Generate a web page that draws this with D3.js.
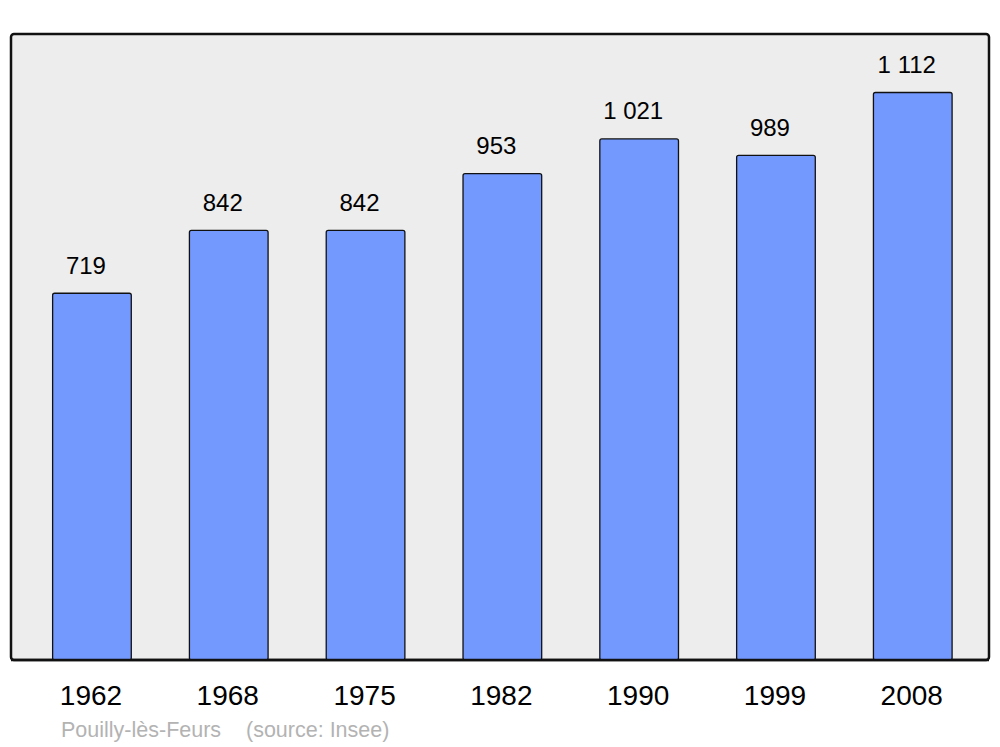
<!DOCTYPE html>
<html>
<head>
<meta charset="utf-8">
<script src="https://cdn.jsdelivr.net/npm/d3@7"></script>
<style>
  body { margin: 0; background: #fff; }
  svg { display: block; font-family: "Liberation Sans", Arial, sans-serif; }
</style>
</head>
<body>
<svg id="chart"></svg>
<script>
// population data
const years = ['1962', '1968', '1975', '1982', '1990', '1999', '2008']
const population = [719, 842, 842, 953, 1021, 989, 1112]
const valueLabels = ['719', '842', '842', '953', '1 021', '989', '1 112']
const footerName = 'Pouilly-lès-Feurs'
const footerSource = '(source: Insee)'

const width = 1000, height = 747
const panel = { left: 11, top: 34, right: 989, bottom: 660 }

const svg = d3.select('#chart').attr('width', width).attr('height', height)

// background panel
svg.append('rect')
  .attr('x', panel.left).attr('y', panel.top)
  .attr('width', panel.right - panel.left).attr('height', panel.bottom - panel.top)
  .attr('rx', 3)
  .attr('fill', '#ededed')
  .attr('stroke', '#111').attr('stroke-width', 2.5)

const x = d3.scaleBand()
  .domain(years)
  .range([panel.left, panel.right])
  .paddingInner(0.425)
  .paddingOuter(0.287)
  .align(0.53)

const y = d3.scaleLinear().domain([0, 1225.5]).range([panel.bottom, panel.top])

const data = years.map((yr, i) => ({ year: yr, value: population[i], label: valueLabels[i] }))

svg.append('g').selectAll('rect')
  .data(data)
  .join('rect')
  .attr('x', d => x(d.year))
  .attr('y', d => y(d.value) + 0.5)
  .attr('width', x.bandwidth())
  .attr('height', d => panel.bottom - y(d.value) - 0.5)
  .attr('rx', 2)
  .attr('fill', '#7399ff')
  .attr('stroke', '#111').attr('stroke-width', 1.3)

// value labels above bars
svg.append('g').selectAll('text')
  .data(data)
  .join('text')
  .attr('x', d => x(d.year) + x.bandwidth() / 2 - 6)
  .attr('y', d => y(d.value) - 19)
  .attr('text-anchor', 'middle')
  .attr('font-size', 24)
  .attr('fill', '#000')
  .text(d => d.label)

// redraw the bottom edge of the panel over the bars
svg.append('line')
  .attr('x1', panel.left).attr('x2', panel.right)
  .attr('y1', panel.bottom).attr('y2', panel.bottom)
  .attr('stroke', '#111').attr('stroke-width', 2.5)

// year axis (no ticks, no domain line)
const axis = svg.append('g')
  .attr('transform', 'translate(-1,' + panel.bottom + ')')
  .call(d3.axisBottom(x).tickSize(0).tickPadding(0))
axis.select('.domain').remove()
axis.selectAll('text')
  .attr('dy', null)
  .attr('y', 45)
  .attr('font-size', 28)
  .attr('font-family', '"Liberation Sans", Arial, sans-serif')
  .attr('fill', '#000')

// footer
svg.append('text')
  .attr('x', 61).attr('y', 737)
  .attr('font-size', 21.5).attr('fill', '#b3b3b3')
  .text(footerName)
svg.append('text')
  .attr('x', 246).attr('y', 737)
  .attr('font-size', 21.5).attr('fill', '#b3b3b3')
  .text(footerSource)
</script>
</body>
</html>
